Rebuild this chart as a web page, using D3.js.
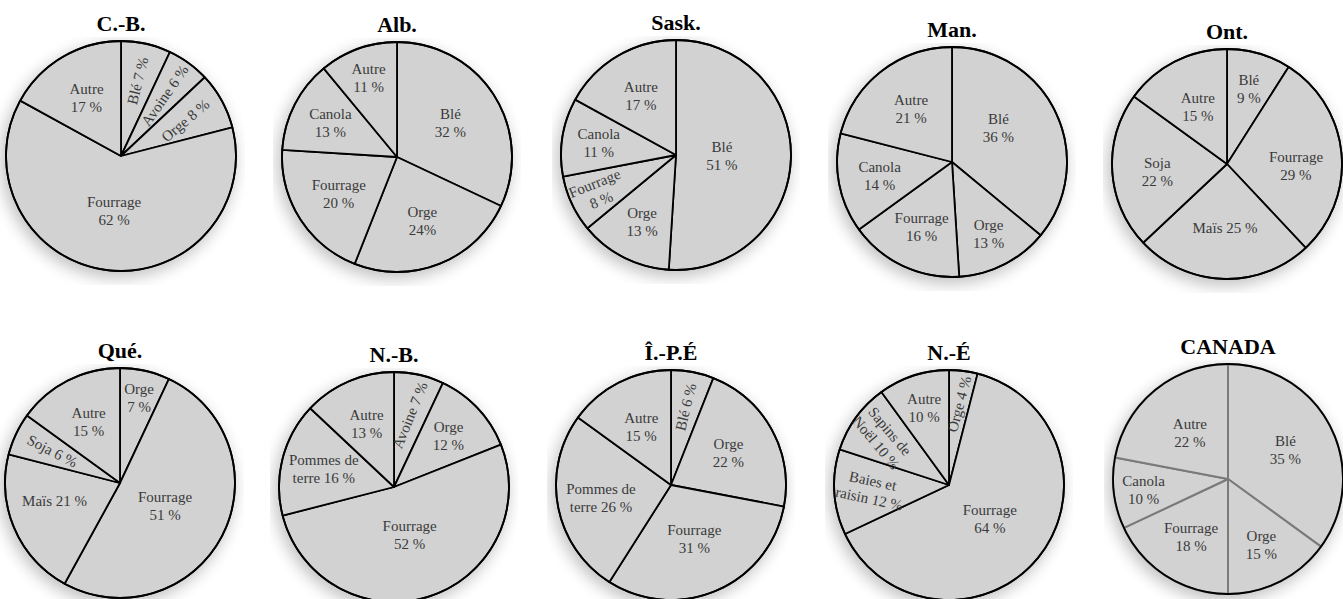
<!DOCTYPE html>
<html>
<head>
<meta charset="utf-8">
<script src="https://cdn.jsdelivr.net/npm/d3@7"></script>
<style>
  html, body { margin: 0; padding: 0; background: #ffffff; }
  svg { display: block; }
</style>
</head>
<body>
<svg id="chart" width="1343" height="599"></svg>
<script>
// Répartition des superficies agricoles par culture, par province (%)
const regions = ["C.-B.", "Alb.", "Sask.", "Man.", "Ont.", "Qué.", "N.-B.", "Î.-P.É", "N.-É", "CANADA"];

const cbCrops  = ["Blé", "Avoine", "Orge", "Fourrage", "Autre"];
const cbShares = [7, 6, 8, 62, 17];

const abCrops  = ["Blé", "Orge", "Fourrage", "Canola", "Autre"];
const abShares = [32, 24, 20, 13, 11];

const skCrops  = ["Blé", "Orge", "Fourrage", "Canola", "Autre"];
const skShares = [51, 13, 8, 11, 17];

const mbCrops  = ["Blé", "Orge", "Fourrage", "Canola", "Autre"];
const mbShares = [36, 13, 16, 14, 21];

const onCrops  = ["Blé", "Fourrage", "Maïs", "Soja", "Autre"];
const onShares = [9, 29, 25, 22, 15];

const qcCrops  = ["Orge", "Fourrage", "Maïs", "Soja", "Autre"];
const qcShares = [7, 51, 21, 6, 15];

const nbCrops  = ["Avoine", "Orge", "Fourrage", "Pommes de\nterre", "Autre"];
const nbShares = [7, 12, 52, 16, 13];

const peCrops  = ["Blé", "Orge", "Fourrage", "Pommes de\nterre", "Autre"];
const peShares = [6, 22, 31, 26, 15];

const nsCrops  = ["Orge", "Fourrage", "Baies et\nraisin", "Sapins de\nNoël", "Autre"];
const nsShares = [4, 64, 12, 10, 10];

const caCrops  = ["Blé", "Orge", "Fourrage", "Canola", "Autre"];
const caShares = [35, 15, 18, 10, 22];

// ---- mise en page ----
const W = 1343, H = 599;
const R = 115;
const pieCenters = [
  [121, 156], [397, 157], [676, 155], [952, 162], [1227, 164],
  [120, 483], [394, 487], [671, 485], [949, 485], [1228, 479]
];

// Placement des étiquettes : rayon (fraction de R), rotation (deg), valeur sous le nom, décalage angulaire (deg)
const labelLayouts = [
  { r: [.67, .65, .64, .48, .59], rot: [-76, -55, -40, null, null], stack: [0, 0, 0, 1, 1] },
  { r: [.55, .60, .60, .65, .73], rot: [], stack: [1, 1, 1, 1, 1], sep: [" ", "", " ", " ", " "] },
  { r: [.40, .65, .75, .68, .60], rot: [null, null, -22, null, null], stack: [1, 1, 1, 1, 1] },
  { r: [.50, .70, .62, .64, .58], rot: [], stack: [1, 1, 1, 1, 1], da: [-11, 0, 0, 0, 0] },
  { r: [.68, .60, .56, .61, .56], rot: [], stack: [1, 1, 0, 1, 1], da: [0, 7, 0, -3, 0] },
  { r: [.76, .44, .59, .65, .60], rot: [null, null, null, 27, null], stack: [1, 1, 0, 0, 1], da: [0, 0, 8, 0, 0] },
  { r: [.64, .65, .44, .63, .60], rot: [-68, null, null, null, null], stack: [0, 1, 1, 0, 1] },
  { r: [.69, .57, .51, .62, .57], rot: [-76, null, null, null, null], stack: [0, 1, 1, 0, 1] },
  { r: [.71, .46, .68, .71, .70], rot: [-75, null, 12, 50, null], stack: [0, 1, 0, 0, 1] },
  { r: [.56, .64, .60, .74, .52], rot: [], stack: [1, 1, 1, 1, 1] }
];

const cropLists  = [cbCrops, abCrops, skCrops, mbCrops, onCrops, qcCrops, nbCrops, peCrops, nsCrops, caCrops];
const shareLists = [cbShares, abShares, skShares, mbShares, onShares, qcShares, nbShares, peShares, nsShares, caShares];

const FILL = "#d2d2d2";
const TEXT = "#3a3a3a";
const SERIF = "'Liberation Serif', 'DejaVu Serif', serif";

const svg = d3.select("#chart");
const defs = svg.append("defs");

defs.append("filter")
  .attr("id", "halo")
  .attr("x", "-30%").attr("y", "-30%").attr("width", "160%").attr("height", "160%")
  .append("feGaussianBlur").attr("stdDeviation", 8);

const shadowLayer = svg.append("g");

const pieGen = d3.pie().sort(null).value(d => d);
const arcGen = d3.arc().innerRadius(0).outerRadius(R);

regions.forEach((name, i) => {
  const [cx, cy] = pieCenters[i];
  const crops = cropLists[i];
  const shares = shareLists[i];
  const lay = labelLayouts[i];
  const isTotal = name === "CANADA";

  const clipId = "clip" + i;
  defs.append("clipPath").attr("id", clipId)
    .append("rect")
    .attr("x", cx - R - 9).attr("y", cy - R - 4)
    .attr("width", 2 * R + 18).attr("height", 2 * R + 18);

  // ombre douce autour du disque
  shadowLayer.append("g").attr("clip-path", `url(#${clipId})`)
    .append("circle")
    .attr("cx", cx - 3).attr("cy", cy + 5).attr("r", R + 2)
    .attr("fill", "#000").attr("opacity", 0.24)
    .attr("filter", "url(#halo)");

  const g = svg.append("g").attr("transform", `translate(${cx},${cy})`);
  const arcs = pieGen(shares);

  g.selectAll("path.slice")
    .data(arcs)
    .join("path")
    .attr("class", "slice")
    .attr("d", arcGen)
    .attr("fill", FILL)
    .attr("stroke", isTotal ? "#7a7a7a" : "#000")
    .attr("stroke-width", isTotal ? 2 : 1.8)
    .attr("stroke-linejoin", "round");

  g.append("circle")
    .attr("r", R)
    .attr("fill", "none")
    .attr("stroke", "#000")
    .attr("stroke-width", 1.8);

  // titre
  svg.append("text")
    .attr("x", cx)
    .attr("y", cy - R - 10)
    .attr("text-anchor", "middle")
    .attr("font-family", SERIF)
    .attr("font-weight", "bold")
    .attr("font-size", 22)
    .attr("fill", "#000")
    .text(name);

  // étiquettes
  const lineH = 18;
  arcs.forEach((a, j) => {
    const sep = lay.sep ? lay.sep[j] : " ";
    const pct = a.data + sep + "%";
    const text = crops[j] + (lay.stack[j] ? "\n" : " ") + pct;
    const lines = text.split("\n");
    const mid = (a.startAngle + a.endAngle) / 2 + ((lay.da && lay.da[j]) || 0) * Math.PI / 180;
    const rr = lay.r[j] * R;
    const x = Math.sin(mid) * rr;
    const y = -Math.cos(mid) * rr;
    const rot = lay.rot[j];
    const t = g.append("text")
      .attr("transform", `translate(${x},${y})` + (rot != null ? ` rotate(${rot})` : ""))
      .attr("text-anchor", "middle")
      .attr("font-family", SERIF)
      .attr("font-size", 15)
      .attr("fill", TEXT);
    lines.forEach((ln, k) => {
      t.append("tspan")
        .attr("x", 0)
        .attr("y", (k - (lines.length - 1) / 2) * lineH + 5)
        .text(ln);
    });
  });
});
</script>
</body>
</html>
